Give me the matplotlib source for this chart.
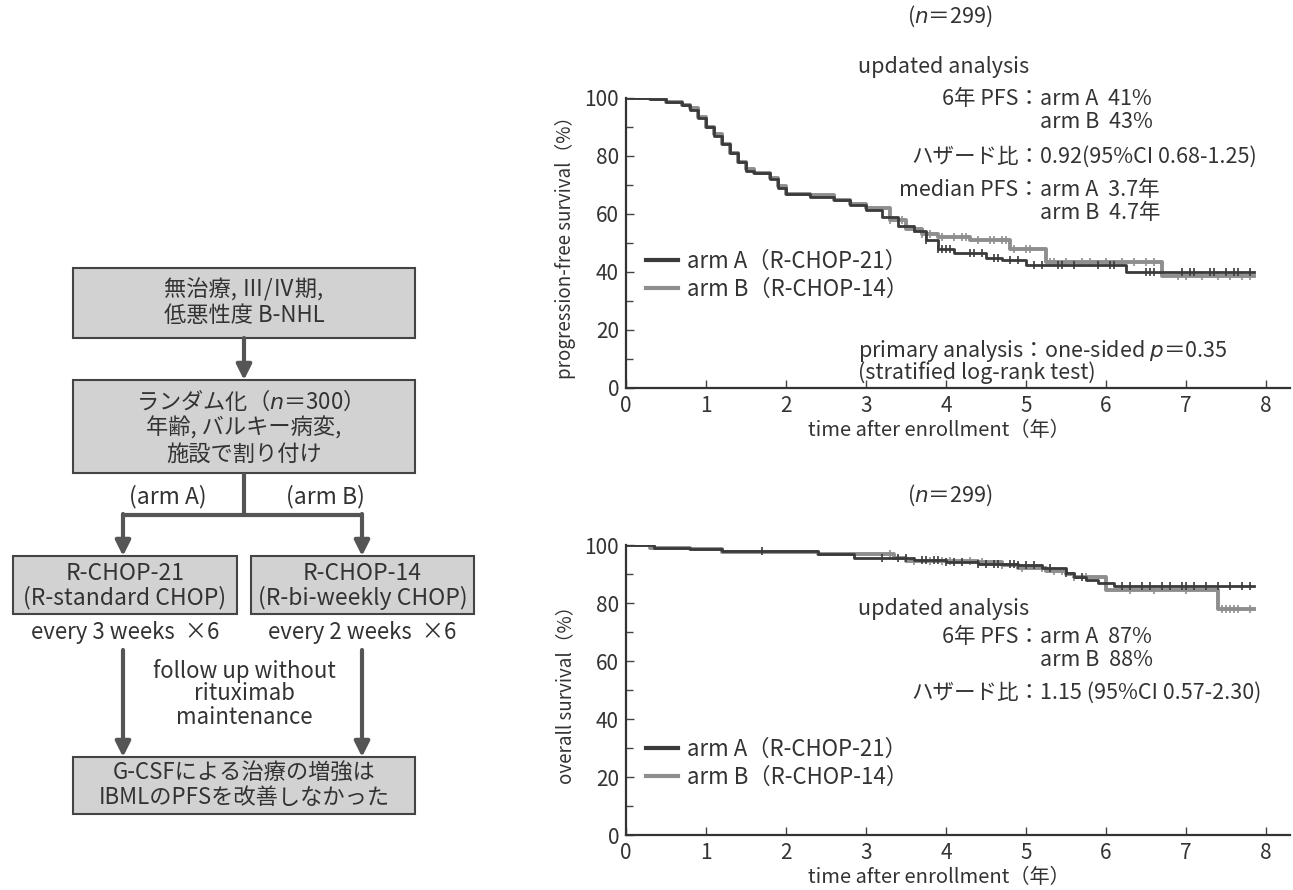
import numpy as np
import matplotlib
matplotlib.use("Agg")
import matplotlib.pyplot as plt
from matplotlib.patches import Rectangle

plt.rcParams['font.family'] = ['Noto Sans CJK JP', 'DejaVu Sans']
plt.rcParams['mathtext.fontset'] = 'custom'
plt.rcParams['mathtext.rm'] = 'Noto Sans CJK JP'
plt.rcParams['mathtext.it'] = 'DejaVu Sans:italic'

# ---- data ----
years = [0, 1, 2, 3, 4, 5, 6, 7, 8]
pct = [0, 20, 40, 60, 80, 100]

# progression-free survival, steps (time in years, %)
pfs_a_t = [0, 0.3, 0.5, 0.7, 0.8, 0.9, 1.0, 1.1, 1.2, 1.3, 1.4, 1.5, 1.6, 1.8, 1.9, 2.0,
           2.3, 2.6, 2.8, 3.0, 3.2, 3.4, 3.6, 3.75, 3.9, 4.1, 4.5, 4.7, 5.0, 6.25, 7.85]
pfs_a_s = [100, 99.5, 98.5, 97.5, 96, 93, 90, 87, 84, 81, 78, 75, 74, 72, 69, 67,
           66, 65, 63, 61.5, 59, 56, 54, 51, 48, 46.5, 45, 44, 42.5, 40, 40]
pfs_b_t = [0, 0.3, 0.5, 0.7, 0.8, 0.9, 1.0, 1.1, 1.2, 1.3, 1.4, 1.5, 1.6, 1.8, 1.9, 2.0,
           2.3, 2.6, 2.8, 3.0, 3.3, 3.5, 3.7, 3.9, 4.3, 4.8, 5.25, 6.7, 7.85]
pfs_b_s = [100, 99.5, 98.5, 97.5, 96.5, 93.5, 90, 87.5, 84, 81, 78, 75.5, 74, 72.5, 69.5, 67,
           66.5, 65, 63.5, 62, 58, 55, 53, 52, 51, 48, 43.5, 38.5, 38.5]
pfs_a_cens = [3.75, 3.9, 3.95, 4.0, 4.05, 4.3, 4.35, 4.45, 4.6, 4.65, 4.8, 4.9, 5.1, 5.2,
              5.4, 5.45, 5.6, 5.9, 6.05, 6.1, 6.5, 6.55, 6.6, 6.95, 7.05, 7.1, 7.3, 7.35,
              7.5, 7.6, 7.65, 7.8]
pfs_b_cens = [3.3, 3.45, 3.6, 3.7, 3.8, 3.95, 4.1, 4.2, 4.25, 4.4, 4.55, 4.6, 4.7, 4.75,
              4.85, 5.0, 5.05, 5.3, 5.35, 5.5, 5.7, 5.8, 6.0, 6.2, 6.35, 6.5, 6.6, 6.9,
              7.0, 7.2, 7.4, 7.55, 7.7, 7.8]

# overall survival
os_a_t = [0, 0.35, 0.8, 1.2, 2.4, 2.85, 3.6, 4.0, 4.4, 4.9, 5.2, 5.5, 5.6, 5.75, 5.9, 6.1, 7.85]
os_a_s = [100, 99, 98.5, 98, 97, 95.5, 95, 94, 93.5, 93, 92, 90.5, 89, 88, 87, 86, 86]
os_b_t = [0, 0.3, 0.8, 1.2, 2.4, 3.35, 3.5, 4.4, 4.7, 4.9, 5.25, 5.5, 5.6, 6.0, 7.4, 7.85]
os_b_s = [100, 99, 98.5, 97.5, 97, 95.5, 94.5, 94, 93, 92, 91, 90, 89, 84.5, 78, 78]
os_a_cens = [1.7, 3.2, 3.4, 3.5, 3.7, 3.75, 3.85, 3.9, 4.0, 4.1, 4.2, 4.4, 4.5, 4.6, 4.65,
             4.8, 4.85, 4.9, 5.0, 5.1, 5.3, 5.5, 5.7, 6.2, 6.3, 6.45, 6.55, 6.7, 6.8,
             6.95, 7.0, 7.1, 7.25, 7.4, 7.55, 7.7, 7.8]
os_b_cens = [3.3, 3.6, 3.8, 3.95, 4.05, 4.3, 4.45, 4.7, 4.95, 5.2, 5.35, 5.45, 5.6, 5.75,
             6.3, 6.6, 7.0, 7.45, 7.5, 7.55, 7.6, 7.65, 7.8]

labels = ['arm A（R-CHOP-21）', 'arm B（R-CHOP-14）']
col_a = '#3a3a3a'
col_b = '#8e8e8e'
tc = '#333333'

W, H = 1293, 890
fig = plt.figure(figsize=(W / 100, H / 100), dpi=100)

# background axes in pixel coordinates: flowchart + annotations
bg = fig.add_axes([0, 0, 1, 1])
bg.set_xlim(0, W)
bg.set_ylim(H, 0)
bg.axis('off')


def box(x0, y0, x1, y1, lines, ys, fs=16):
    bg.add_patch(Rectangle((x0, y0), x1 - x0, y1 - y0, facecolor='#d2d2d2',
                           edgecolor='#444444', lw=1.5))
    for s, y in zip(lines, ys):
        bg.text((x0 + x1) / 2, y, s, ha='center', va='center', fontsize=fs, color=tc)


def arrow(x, y0, y1):
    bg.annotate('', xy=(x, y1), xytext=(x, y0),
                arrowprops=dict(arrowstyle='-|>,head_length=0.9,head_width=0.45',
                                lw=3, color='#555555', shrinkA=0, shrinkB=0))


box(73, 268, 415, 338, ['無治療, Ⅲ/Ⅳ期,', '低悪性度 B-NHL'], [290, 316])
arrow(244, 338, 380)
box(73, 380, 415, 473, ['ランダム化（$n$＝300）', '年齢, バルキー病変,', '施設で割り付け'],
    [401, 428, 454])
bg.plot([244, 244], [473, 515], color='#555555', lw=3, solid_capstyle='butt')
bg.plot([122, 363], [515, 515], color='#555555', lw=3, solid_capstyle='butt')
arrow(123, 514, 556)
arrow(362, 514, 556)
bg.text(168, 497, '(arm A)', ha='center', va='center', fontsize=16.5, color=tc)
bg.text(325, 497, '(arm B)', ha='center', va='center', fontsize=16.5, color=tc)
box(13, 556, 237, 614, ['R-CHOP-21', '(R-standard CHOP)'], [573, 598], fs=16.5)
box(251, 556, 474, 614, ['R-CHOP-14', '(R-bi-weekly CHOP)'], [573, 598], fs=16.5)
bg.text(125, 633, 'every 3 weeks  ×6', ha='center', va='center', fontsize=16, color=tc)
bg.text(362, 633, 'every 2 weeks  ×6', ha='center', va='center', fontsize=16, color=tc)
arrow(123, 650, 757)
arrow(362, 650, 757)
for s, y in zip(['follow up without', 'rituximab', 'maintenance'], [671, 694, 717]):
    bg.text(244, y, s, ha='center', va='center', fontsize=16, color=tc)
box(73, 757, 415, 814, ['G-CSFによる治療の増強は', 'IBMLのPFSを改善しなかった'], [773, 798])


def km_axes(top_px):
    ax = fig.add_axes([626 / W, 1 - (top_px + 290) / H, 664 / W, 290 / H])
    ax.set_facecolor('none')
    ax.set_xlim(0, 8.3)
    ax.set_ylim(0, 100)
    for sp in ['top', 'right']:
        ax.spines[sp].set_visible(False)
    for sp in ['left', 'bottom']:
        ax.spines[sp].set_linewidth(1.6)
        ax.spines[sp].set_color('#333333')
    ax.set_xticks(years)
    ax.set_yticks(pct)
    ax.set_yticks(np.arange(10, 100, 20), minor=True)
    ax.tick_params(direction='in', length=6, width=1.0, colors='#444444',
                   labelcolor=tc, labelsize=15, pad=5)
    ax.tick_params(which='minor', direction='in', length=5, width=1.0, colors='#444444')
    ax.spines['left'].set_bounds(0, 100)
    ax.set_xlabel('time after enrollment（年）', fontsize=14.5, color=tc)
    ax.xaxis.set_label_coords(0.471, -0.11)
    return ax


def km(ax, t, s, cens, color, lw):
    ax.step(t, s, where='post', color=color, lw=lw)
    t = np.asarray(t)
    s = np.asarray(s)
    idx = np.searchsorted(t, cens, side='right') - 1
    ax.plot(cens, s[idx], ls='none', marker='|', ms=6, mew=1.2, color=color)


h1 = [plt.Line2D([], [], color=col_a, lw=3), plt.Line2D([], [], color=col_b, lw=3)]
leg_kw = dict(loc='upper left', frameon=False, fontsize=16, handlelength=1.45,
              handletextpad=0.4, labelspacing=0.22, borderpad=0, borderaxespad=0,
              labelcolor=tc)

# top: PFS
ax1 = km_axes(98)
km(ax1, pfs_b_t, pfs_b_s, pfs_b_cens, col_b, 2.8)
km(ax1, pfs_a_t, pfs_a_s, pfs_a_cens, col_a, 2.0)
ax1.set_ylabel('progression-free survival（%）', fontsize=13.5, color=tc, labelpad=6)
ax1.legend(h1, labels, bbox_to_anchor=(0.03, 0.475), **leg_kw)

# bottom: OS
ax2 = km_axes(545)
km(ax2, os_b_t, os_b_s, os_b_cens, col_b, 2.8)
km(ax2, os_a_t, os_a_s, os_a_cens, col_a, 2.0)
ax2.set_ylabel('overall survival（%）', fontsize=13.5, color=tc, labelpad=6)
ax2.legend(h1, labels, bbox_to_anchor=(0.03, 0.335), **leg_kw)

# annotations
fs = 15.5
xc = 1040


def row(y, left, right):
    if left:
        bg.text(xc, y, left + '：', ha='right', va='center', fontsize=fs, color=tc)
    bg.text(xc, y, right, ha='left', va='center', fontsize=fs, color=tc)


bg.text(950, 16, '($n$＝299)', ha='center', va='center', fontsize=fs, color=tc)
bg.text(858, 67, 'updated analysis', ha='left', va='center', fontsize=fs, color=tc)
row(99, '6年 PFS', 'arm A  41%')
row(122, None, 'arm B  43%')
row(157, 'ハザード比', '0.92(95%CI 0.68-1.25)')
row(190, 'median PFS', 'arm A  3.7年')
row(213, None, 'arm B  4.7年')
bg.text(858, 351, 'primary analysis：one-sided $p$＝0.35', ha='left', va='center',
        fontsize=fs, color=tc)
bg.text(858, 373, '(stratified log-rank test)', ha='left', va='center', fontsize=fs, color=tc)

bg.text(950, 495, '($n$＝299)', ha='center', va='center', fontsize=fs, color=tc)
bg.text(858, 609, 'updated analysis', ha='left', va='center', fontsize=fs, color=tc)
row(637, '6年 PFS', 'arm A  87%')
row(660, None, 'arm B  88%')
row(693, 'ハザード比', '1.15 (95%CI 0.57-2.30)')

fig.savefig('out.png', dpi=100)
